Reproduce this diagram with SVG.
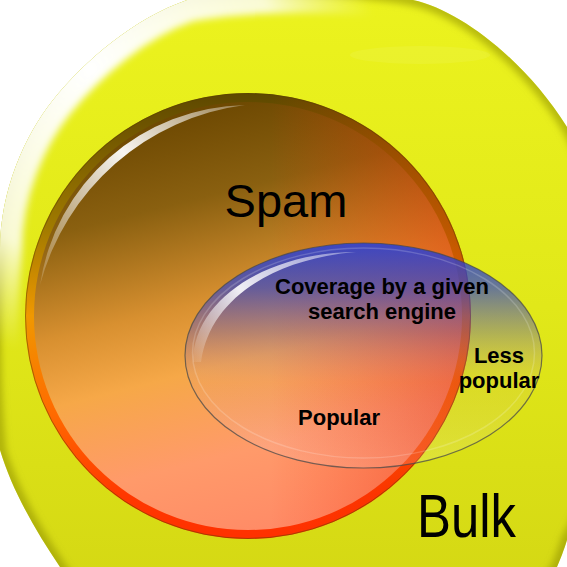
<svg xmlns="http://www.w3.org/2000/svg" width="567" height="567" viewBox="0 0 567 567">
  <style>
    .lbl { font-family: "Liberation Sans", Arial, sans-serif; fill: #000; text-anchor: middle; }
    .small { font-size: 22px; font-weight: bold; }
  </style>
  <defs>
    <path id="bulkShape" d="M187,0 C250,-12 350,-12 413,0 C460,10 525,60 567,127 C595,175 612,260 612,335 C612,420 592,495 567,540 C564,550 560,560 557,567 C520,640 100,640 60,567 C35,530 12,490 0,450 C-6,384 -6,316 0,250 C0,190 25,135 53,100 C85,60 135,18 187,0 Z"/>
    <clipPath id="bulkClip"><use href="#bulkShape"/></clipPath>
    <linearGradient id="bulkFill" x1="0" y1="0" x2="0" y2="1">
      <stop offset="0" stop-color="#ecf31e"/>
      <stop offset="0.5" stop-color="#e1e819"/>
      <stop offset="1" stop-color="#d3d613"/>
    </linearGradient>
    <radialGradient id="bulkGlow" gradientUnits="userSpaceOnUse" cx="90" cy="70" r="340">
      <stop offset="0" stop-color="#ffffff" stop-opacity="1"/>
      <stop offset="0.55" stop-color="#fcfce8" stop-opacity="0.9"/>
      <stop offset="0.85" stop-color="#f4f6b0" stop-opacity="0"/>
    </radialGradient>
    <filter id="soft" x="-0.1" y="-0.1" width="1.2" height="1.2">
      <feGaussianBlur stdDeviation="3.5"/>
    </filter>
    <linearGradient id="spamFill" x1="0.35" y1="0" x2="0.6" y2="1">
      <stop offset="0" stop-color="#6a4600"/>
      <stop offset="0.22" stop-color="#8a6010"/>
      <stop offset="0.45" stop-color="#d89030"/>
      <stop offset="0.6" stop-color="#f6a848"/>
      <stop offset="0.8" stop-color="#ff9a6a"/>
      <stop offset="1" stop-color="#ff8a66"/>
    </linearGradient>
    <linearGradient id="spamRim" x1="0" y1="0" x2="0" y2="1">
      <stop offset="0" stop-color="#5e4800"/>
      <stop offset="0.3" stop-color="#a07a00"/>
      <stop offset="0.5" stop-color="#f09800"/>
      <stop offset="0.72" stop-color="#ff6a00"/>
      <stop offset="0.9" stop-color="#ff3800"/>
      <stop offset="1" stop-color="#ff3000"/>
    </linearGradient>
    <linearGradient id="spamRed" x1="0" y1="0.5" x2="1" y2="0.5">
      <stop offset="0" stop-color="#ff3000" stop-opacity="0"/>
      <stop offset="0.55" stop-color="#ff3000" stop-opacity="0"/>
      <stop offset="1" stop-color="#e02000" stop-opacity="0.45"/>
    </linearGradient>
    <linearGradient id="spamShine" gradientUnits="userSpaceOnUse" x1="40" y1="285" x2="245" y2="105">
      <stop offset="0" stop-color="#ffffff" stop-opacity="0.15"/>
      <stop offset="0.55" stop-color="#ffffff" stop-opacity="0.95"/>
      <stop offset="1" stop-color="#ffffff" stop-opacity="0.3"/>
    </linearGradient>
    <linearGradient id="covFill" x1="0" y1="0" x2="0" y2="1">
      <stop offset="0" stop-color="#2840d8" stop-opacity="0.88"/>
      <stop offset="0.2" stop-color="#3044cc" stop-opacity="0.68"/>
      <stop offset="0.4" stop-color="#5a50c0" stop-opacity="0.36"/>
      <stop offset="0.62" stop-color="#c080c0" stop-opacity="0.08"/>
      <stop offset="1" stop-color="#ffffff" stop-opacity="0.15"/>
    </linearGradient>
    <linearGradient id="covShine" gradientUnits="userSpaceOnUse" x1="193" y1="362" x2="356" y2="252">
      <stop offset="0" stop-color="#ffffff" stop-opacity="0.05"/>
      <stop offset="0.4" stop-color="#ffffff" stop-opacity="0.9"/>
      <stop offset="1" stop-color="#ffffff" stop-opacity="0.35"/>
    </linearGradient>
  </defs>

  <rect width="567" height="567" fill="#ffffff"/>

  <g id="bulk">
    <use href="#bulkShape" fill="url(#bulkFill)"/>
    <g clip-path="url(#bulkClip)">
      <use href="#bulkShape" fill="none" stroke="#8c8c00" stroke-opacity="0.55" stroke-width="12" filter="url(#soft)"/>
      <use href="#bulkShape" fill="none" stroke="url(#bulkGlow)" stroke-width="44" filter="url(#soft)"/>
      <ellipse cx="420" cy="55" rx="70" ry="9" fill="#ffffff" opacity="0.07"/>
    </g>
    <text class="lbl" x="466.5" y="537" font-size="61" textLength="99" lengthAdjust="spacingAndGlyphs">Bulk</text>
  </g>

  <g id="spam">
    <circle cx="248" cy="316" r="223" fill="url(#spamRim)"/>
    <circle cx="248" cy="316" r="214" fill="url(#spamFill)"/>
    <circle cx="248" cy="316" r="223" fill="url(#spamRed)"/>
    <circle cx="248" cy="316" r="222.5" fill="none" stroke="#5a4200" stroke-opacity="0.5" stroke-width="1"/>
    <path d="M40,285 A211,211 0 0 1 245,105 A245,245 0 0 0 40,285 Z" fill="url(#spamShine)"/>
    <text class="lbl" x="286" y="217" font-size="47">Spam</text>
  </g>

  <g id="coverage">
    <ellipse cx="363.5" cy="355.5" rx="178.5" ry="112.5" fill="url(#covFill)"/>
    <ellipse cx="363.5" cy="353" rx="171" ry="105" fill="none" stroke="#ffffff" stroke-opacity="0.18" stroke-width="1.5"/>
    <path d="M193,362 C193,298 270,252 356,252 C280,258 210,295 201,362 Z" fill="url(#covShine)"/>
    <ellipse cx="363.5" cy="355.5" rx="178.5" ry="112.5" fill="none" stroke="#4a4a4a" stroke-opacity="0.75" stroke-width="1.2"/>
    <text class="lbl small" x="382" y="294">Coverage by a given</text>
    <text class="lbl small" x="382" y="319">search engine</text>
    <text class="lbl small" x="499" y="363">Less</text>
    <text class="lbl small" x="499" y="388">popular</text>
    <text class="lbl small" x="339" y="425">Popular</text>
  </g>
</svg>
